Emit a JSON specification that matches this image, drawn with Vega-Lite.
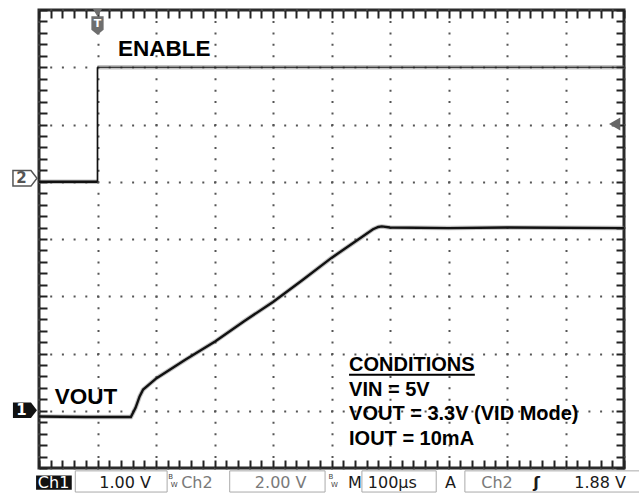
{
  "$schema": "https://vega.github.io/schema/vega-lite/v6.json",
  "width": 585,
  "height": 458,
  "autosize": {"type": "none"},
  "padding": {"left": 39, "top": 10, "right": 15, "bottom": 25},
  "background": "white",
  "config": {"view": {"stroke": "#2b2b2b", "strokeWidth": 3}},
  "datasets": {
    "enable": [
      {"part": "low", "t": 0, "v": 5.0, "i": 0},
      {"part": "low", "t": 1.0, "v": 5.0, "i": 1},
      {"part": "edge", "t": 1.0, "v": 5.0, "i": 0},
      {"part": "edge", "t": 1.0, "v": 7.0, "i": 1},
      {"part": "high", "t": 1.0, "v": 7.0, "i": 0},
      {"part": "high", "t": 10, "v": 7.0, "i": 1}
    ],
    "vout": [
      {"t": 0, "v": 0.9},
      {"t": 0.8, "v": 0.89},
      {"t": 1.57, "v": 0.89},
      {"t": 1.65, "v": 1.05},
      {"t": 1.72, "v": 1.25},
      {"t": 1.78, "v": 1.37},
      {"t": 2.01, "v": 1.57},
      {"t": 2.5, "v": 1.89},
      {"t": 3.01, "v": 2.21},
      {"t": 3.5, "v": 2.56},
      {"t": 4.0, "v": 2.9},
      {"t": 4.5, "v": 3.28},
      {"t": 5.0, "v": 3.67},
      {"t": 5.5, "v": 4.02},
      {"t": 5.71, "v": 4.17},
      {"t": 5.8, "v": 4.21},
      {"t": 5.86, "v": 4.22},
      {"t": 6.0, "v": 4.2},
      {"t": 7.0, "v": 4.19},
      {"t": 8.0, "v": 4.2},
      {"t": 10, "v": 4.19}
    ]
  },
  "layer": [
    {
      "data": {"name": "enable"},
      "transform": [{"filter": "datum.part !== 'edge'"}],
      "mark": {"type": "line", "color": "#777", "opacity": 0.45, "strokeWidth": 4.5},
      "encoding": {
        "detail": {"field": "part"},
        "order": {"field": "i"},
        "x": {"field": "t", "type": "quantitative", "scale": {"domain": [0, 10], "nice": false, "zero": false},
          "axis": {"orient": "bottom", "title": null, "labels": false, "domain": false, "offset": -8,
            "values": [0,0.2,0.4,0.6,0.8,1,1.2,1.4,1.6,1.8,2,2.2,2.4,2.6,2.8,3,3.2,3.4,3.6,3.8,4,4.2,4.4,4.6,4.8,5,5.2,5.4,5.6,5.8,6,6.2,6.4,6.6,6.8,7,7.2,7.4,7.6,7.8,8,8.2,8.4,8.6,8.8,9,9.2,9.4,9.6,9.8,10],
            "tickSize": 8, "tickColor": "#222", "tickWidth": 2,
            "grid": true, "gridColor": "#555", "gridWidth": 2, "gridDash": [2, 9.45], "gridDashOffset": 1,
            "gridOpacity": {"condition": {"test": "abs(datum.value - round(datum.value)) < 0.01", "value": 1}, "value": 0}}},
        "y": {"field": "v", "type": "quantitative", "scale": {"domain": [0, 8], "nice": false, "zero": false},
          "axis": {"orient": "left", "title": null, "labels": false, "domain": false, "offset": -8,
            "values": [0,0.2,0.4,0.6,0.8,1,1.2,1.4,1.6,1.8,2,2.2,2.4,2.6,2.8,3,3.2,3.4,3.6,3.8,4,4.2,4.4,4.6,4.8,5,5.2,5.4,5.6,5.8,6,6.2,6.4,6.6,6.8,7,7.2,7.4,7.6,7.8,8],
            "tickSize": 8, "tickColor": "#222", "tickWidth": 2,
            "grid": true, "gridColor": "#555", "gridWidth": 2, "gridDash": [2, 9.7], "gridDashOffset": 1,
            "gridOpacity": {"condition": {"test": "abs(datum.value - round(datum.value)) < 0.01", "value": 1}, "value": 0}}}
      }
    },
    {
      "data": {"name": "enable"},
      "mark": {"type": "line", "color": "#111"},
      "encoding": {
        "detail": {"field": "part"},
        "order": {"field": "i"},
        "strokeWidth": {"field": "part", "type": "nominal", "scale": {"domain": ["low", "edge", "high"], "range": [2.4, 1, 2.4]}, "legend": null},
        "x": {"field": "t", "type": "quantitative", "scale": {"domain": [0, 10], "nice": false, "zero": false},
          "axis": {"orient": "top", "title": null, "labels": false, "domain": false, "grid": false, "offset": -8,
            "values": [0,0.2,0.4,0.6,0.8,1,1.2,1.4,1.6,1.8,2,2.2,2.4,2.6,2.8,3,3.2,3.4,3.6,3.8,4,4.2,4.4,4.6,4.8,5,5.2,5.4,5.6,5.8,6,6.2,6.4,6.6,6.8,7,7.2,7.4,7.6,7.8,8,8.2,8.4,8.6,8.8,9,9.2,9.4,9.6,9.8,10],
            "tickSize": 8, "tickColor": "#222", "tickWidth": 2}},
        "y": {"field": "v", "type": "quantitative", "scale": {"domain": [0, 8], "nice": false, "zero": false},
          "axis": {"orient": "right", "title": null, "labels": false, "domain": false, "grid": false, "offset": -8,
            "values": [0,0.2,0.4,0.6,0.8,1,1.2,1.4,1.6,1.8,2,2.2,2.4,2.6,2.8,3,3.2,3.4,3.6,3.8,4,4.2,4.4,4.6,4.8,5,5.2,5.4,5.6,5.8,6,6.2,6.4,6.6,6.8,7,7.2,7.4,7.6,7.8,8],
            "tickSize": 8, "tickColor": "#222", "tickWidth": 2}}
      }
    },
    {
      "data": {"name": "vout"},
      "mark": {"type": "line", "color": "#777", "opacity": 0.45, "strokeWidth": 4.5},
      "encoding": {
        "x": {"field": "t", "type": "quantitative", "scale": {"domain": [0, 10], "nice": false, "zero": false}, "axis": null},
        "y": {"field": "v", "type": "quantitative", "scale": {"domain": [0, 8], "nice": false, "zero": false}, "axis": null}
      }
    },
    {
      "data": {"name": "vout"},
      "mark": {"type": "line", "color": "#111", "strokeWidth": 2.4},
      "encoding": {
        "x": {"field": "t", "type": "quantitative", "scale": {"domain": [0, 10], "nice": false, "zero": false}, "axis": null},
        "y": {"field": "v", "type": "quantitative", "scale": {"domain": [0, 8], "nice": false, "zero": false}, "axis": null}
      }
    },
    {
      "data": {"values": [{"label": "ENABLE", "x": 1.35, "y": 7.2}, {"label": "VOUT", "x": 0.27, "y": 1.12}]},
      "mark": {"type": "text", "font": "Liberation Sans", "fontWeight": "bold", "fontSize": 22.5, "align": "left", "baseline": "alphabetic", "color": "#000"},
      "encoding": {
        "x": {"field": "x", "type": "quantitative", "scale": {"domain": [0, 10], "nice": false, "zero": false}, "axis": null},
        "y": {"field": "y", "type": "quantitative", "scale": {"domain": [0, 8], "nice": false, "zero": false}, "axis": null},
        "text": {"field": "label"}
      }
    },
    {
      "data": {"values": [
        {"label": "CONDITIONS", "x": 5.3, "y": 1.69},
        {"label": "VIN = 5V", "x": 5.3, "y": 1.26},
        {"label": "VOUT = 3.3V (VID Mode)", "x": 5.3, "y": 0.83},
        {"label": "IOUT = 10mA", "x": 5.3, "y": 0.41}
      ]},
      "mark": {"type": "text", "font": "Liberation Sans", "fontWeight": "bold", "fontSize": 20, "align": "left", "baseline": "alphabetic", "color": "#000"},
      "encoding": {
        "x": {"field": "x", "type": "quantitative", "scale": {"domain": [0, 10], "nice": false, "zero": false}, "axis": null},
        "y": {"field": "y", "type": "quantitative", "scale": {"domain": [0, 8], "nice": false, "zero": false}, "axis": null},
        "text": {"field": "label"}
      }
    },
    {
      "data": {"values": [{"x": 5.3, "x2": 7.45, "y": 1.63}]},
      "mark": {"type": "rule", "color": "#000", "strokeWidth": 2},
      "encoding": {
        "x": {"field": "x", "type": "quantitative", "scale": {"domain": [0, 10], "nice": false, "zero": false}, "axis": null},
        "x2": {"field": "x2"},
        "y": {"field": "y", "type": "quantitative", "scale": {"domain": [0, 8], "nice": false, "zero": false}, "axis": null}
      }
    },
    {
      "data": {"values": [{"x": 1.0, "y": 7.95}]},
      "mark": {"type": "point", "shape": "triangle-down", "filled": true, "size": 80, "color": "#6e6e6e", "opacity": 1},
      "encoding": {
        "x": {"field": "x", "type": "quantitative", "scale": {"domain": [0, 10], "nice": false, "zero": false}, "axis": null},
        "y": {"field": "y", "type": "quantitative", "scale": {"domain": [0, 8], "nice": false, "zero": false}, "axis": null}
      }
    },
    {
      "data": {"values": [{"x": 1.0, "y": 7.73}]},
      "mark": {"type": "point", "shape": "M-1,-1.5L1,-1.5L1,0.7L0,1.5L-1,0.7Z", "filled": true, "size": 150, "color": "#6e6e6e", "opacity": 1},
      "encoding": {
        "x": {"field": "x", "type": "quantitative", "scale": {"domain": [0, 10], "nice": false, "zero": false}, "axis": null},
        "y": {"field": "y", "type": "quantitative", "scale": {"domain": [0, 8], "nice": false, "zero": false}, "axis": null}
      }
    },
    {
      "data": {"values": [{"label": "T", "x": 1.0, "y": 7.73}]},
      "mark": {"type": "text", "font": "DejaVu Sans", "fontWeight": "bold", "fontSize": 11, "color": "white", "baseline": "middle", "align": "center", "dy": -1},
      "encoding": {
        "x": {"field": "x", "type": "quantitative", "scale": {"domain": [0, 10], "nice": false, "zero": false}, "axis": null},
        "y": {"field": "y", "type": "quantitative", "scale": {"domain": [0, 8], "nice": false, "zero": false}, "axis": null},
        "text": {"field": "label"}
      }
    },
    {
      "data": {"values": [{"x": -0.24, "y": 5.06}]},
      "mark": {"type": "point", "shape": "M-1,-0.65L0.5,-0.65L1,0L0.5,0.65L-1,0.65Z", "filled": true, "size": 576, "fill": "white", "stroke": "#555", "strokeWidth": 1.5, "opacity": 1},
      "encoding": {
        "x": {"field": "x", "type": "quantitative", "scale": {"domain": [0, 10], "nice": false, "zero": false}, "axis": null},
        "y": {"field": "y", "type": "quantitative", "scale": {"domain": [0, 8], "nice": false, "zero": false}, "axis": null}
      }
    },
    {
      "data": {"values": [{"x": -0.24, "y": 1.01}]},
      "mark": {"type": "point", "shape": "M-1,-0.65L0.5,-0.65L1,0L0.5,0.65L-1,0.65Z", "filled": true, "size": 576, "color": "#111", "opacity": 1},
      "encoding": {
        "x": {"field": "x", "type": "quantitative", "scale": {"domain": [0, 10], "nice": false, "zero": false}, "axis": null},
        "y": {"field": "y", "type": "quantitative", "scale": {"domain": [0, 8], "nice": false, "zero": false}, "axis": null}
      }
    },
    {
      "data": {"values": [{"label": "2", "x": -0.3, "y": 5.06}]},
      "mark": {"type": "text", "font": "DejaVu Sans", "fontWeight": "bold", "fontSize": 15, "baseline": "middle", "align": "center", "color": "#555"},
      "encoding": {
        "x": {"field": "x", "type": "quantitative", "scale": {"domain": [0, 10], "nice": false, "zero": false}, "axis": null},
        "y": {"field": "y", "type": "quantitative", "scale": {"domain": [0, 8], "nice": false, "zero": false}, "axis": null},
        "text": {"field": "label"}
      }
    },
    {
      "data": {"values": [{"label": "1", "x": -0.3, "y": 1.01}]},
      "mark": {"type": "text", "font": "DejaVu Sans", "fontWeight": "bold", "fontSize": 15, "baseline": "middle", "align": "center", "color": "#ffffff"},
      "encoding": {
        "x": {"field": "x", "type": "quantitative", "scale": {"domain": [0, 10], "nice": false, "zero": false}, "axis": null},
        "y": {"field": "y", "type": "quantitative", "scale": {"domain": [0, 8], "nice": false, "zero": false}, "axis": null},
        "text": {"field": "label"}
      }
    },
    {
      "data": {"values": [{"x": 9.84, "y": 6.01}]},
      "mark": {"type": "point", "shape": "triangle-left", "filled": true, "size": 170, "color": "#666", "opacity": 1},
      "encoding": {
        "x": {"field": "x", "type": "quantitative", "scale": {"domain": [0, 10], "nice": false, "zero": false}, "axis": null},
        "y": {"field": "y", "type": "quantitative", "scale": {"domain": [0, 8], "nice": false, "zero": false}, "axis": null}
      }
    },
    {
      "data": {"values": [
        {"x": 0.62, "x2": 2.19, "y": -0.05, "y2": -0.42},
        {"x": 3.26, "x2": 4.89, "y": -0.05, "y2": -0.42},
        {"x": 5.52, "x2": 6.79, "y": -0.05, "y2": -0.42},
        {"x": 7.28, "x2": 10.3, "y": -0.05, "y2": -0.42}
      ]},
      "mark": {"type": "rect", "fill": null, "stroke": "#aaa", "strokeWidth": 1, "filled": false},
      "encoding": {
        "x": {"field": "x", "type": "quantitative", "scale": {"domain": [0, 10], "nice": false, "zero": false}, "axis": null},
        "x2": {"field": "x2"},
        "y": {"field": "y", "type": "quantitative", "scale": {"domain": [0, 8], "nice": false, "zero": false}, "axis": null},
        "y2": {"field": "y2"}
      }
    },
    {
      "data": {"values": [{"x": -0.05, "x2": 0.56, "y": -0.13, "y2": -0.38}]},
      "mark": {"type": "rect", "color": "#111"},
      "encoding": {
        "x": {"field": "x", "type": "quantitative", "scale": {"domain": [0, 10], "nice": false, "zero": false}, "axis": null},
        "x2": {"field": "x2"},
        "y": {"field": "y", "type": "quantitative", "scale": {"domain": [0, 8], "nice": false, "zero": false}, "axis": null},
        "y2": {"field": "y2"}
      }
    },
    {
      "data": {"values": [{"label": "Ch1", "x": -0.02, "y": -0.355}]},
      "mark": {"type": "text", "font": "DejaVu Sans", "fontSize": 16, "align": "left", "baseline": "alphabetic", "color": "#ffffff"},
      "encoding": {
        "x": {"field": "x", "type": "quantitative", "scale": {"domain": [0, 10], "nice": false, "zero": false}, "axis": null},
        "y": {"field": "y", "type": "quantitative", "scale": {"domain": [0, 8], "nice": false, "zero": false}, "axis": null},
        "text": {"field": "label"}
      }
    },
    {
      "data": {"values": [
        {"label": "1.00 V", "x": 1.03, "y": -0.355},
        {"label": "M", "x": 5.28, "y": -0.355},
        {"label": "100µs", "x": 5.62, "y": -0.355},
        {"label": "A", "x": 6.94, "y": -0.355},
        {"label": "1.88 V", "x": 9.15, "y": -0.355}
      ]},
      "mark": {"type": "text", "font": "DejaVu Sans", "fontSize": 16, "align": "left", "baseline": "alphabetic", "color": "#1a1a1a"},
      "encoding": {
        "x": {"field": "x", "type": "quantitative", "scale": {"domain": [0, 10], "nice": false, "zero": false}, "axis": null},
        "y": {"field": "y", "type": "quantitative", "scale": {"domain": [0, 8], "nice": false, "zero": false}, "axis": null},
        "text": {"field": "label"}
      }
    },
    {
      "data": {"values": [{"label": "ʃ", "x": 8.45, "y": -0.355}]},
      "mark": {"type": "text", "font": "DejaVu Sans", "fontSize": 16, "fontWeight": "bold", "align": "left", "baseline": "alphabetic", "color": "#1a1a1a"},
      "encoding": {
        "x": {"field": "x", "type": "quantitative", "scale": {"domain": [0, 10], "nice": false, "zero": false}, "axis": null},
        "y": {"field": "y", "type": "quantitative", "scale": {"domain": [0, 8], "nice": false, "zero": false}, "axis": null},
        "text": {"field": "label"}
      }
    },
    {
      "data": {"values": [
        {"label": "Ch2", "x": 2.43, "y": -0.355},
        {"label": "2.00 V", "x": 3.69, "y": -0.355},
        {"label": "Ch2", "x": 7.56, "y": -0.355}
      ]},
      "mark": {"type": "text", "font": "DejaVu Sans", "fontSize": 16, "align": "left", "baseline": "alphabetic", "color": "#7a7a7a"},
      "encoding": {
        "x": {"field": "x", "type": "quantitative", "scale": {"domain": [0, 10], "nice": false, "zero": false}, "axis": null},
        "y": {"field": "y", "type": "quantitative", "scale": {"domain": [0, 8], "nice": false, "zero": false}, "axis": null},
        "text": {"field": "label"}
      }
    },
    {
      "data": {"values": [
        {"label": "B", "x": 2.25, "y": -0.2},
        {"label": "W", "x": 2.31, "y": -0.33},
        {"label": "B", "x": 4.99, "y": -0.2},
        {"label": "W", "x": 5.05, "y": -0.33}
      ]},
      "mark": {"type": "text", "font": "DejaVu Sans", "fontSize": 7, "align": "center", "baseline": "alphabetic", "color": "#444"},
      "encoding": {
        "x": {"field": "x", "type": "quantitative", "scale": {"domain": [0, 10], "nice": false, "zero": false}, "axis": null},
        "y": {"field": "y", "type": "quantitative", "scale": {"domain": [0, 8], "nice": false, "zero": false}, "axis": null},
        "text": {"field": "label"}
      }
    }
  ],
  "resolve": {"axis": {"x": "independent", "y": "independent"}}
}
